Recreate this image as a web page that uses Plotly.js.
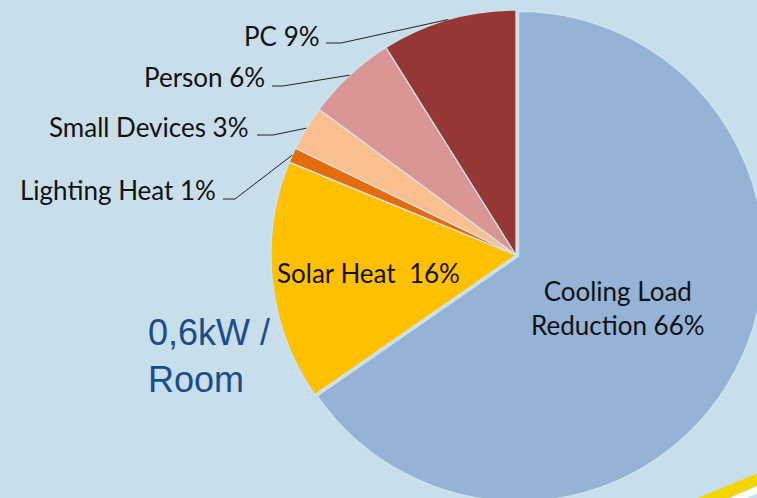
<!DOCTYPE html>
<html>
<head>
<meta charset="utf-8">
<script src="https://cdn.plot.ly/plotly-3.0.1.min.js"></script>
<style>
html,body{margin:0;padding:0;overflow:hidden;background:#c8dfeb;}
#chart{width:800px;height:540px;}
</style>
</head>
<body>
<div id="chart"></div>
<script>
// ---- data ----
const categories = ['Cooling Load Reduction', 'Solar Heat', 'Lighting Heat', 'Small Devices', 'Person', 'PC'];
const shares = [66, 16, 1, 3, 6, 9];
const colors = ['#95b3d7', '#ffc000', '#e46c0a', '#fac090', '#d99694', '#953735'];
const noteText = '0,6kW /<br>Room';

// ---- layout geometry (pixels in an 800x540 paper) ----
const W = 800, H = 540;
const cx = 516, cy = 255, R = 245;
const pullCooling = 0.012;
const Rd = R * (1 + pullCooling);
const px = x => x / W;
const py = y => 1 - y / H;

const trace = {
  type: 'pie',
  labels: categories,
  values: shares,
  sort: false,
  direction: 'clockwise',
  rotation: 0,
  marker: {colors: colors, line: {color: '#d2e4ee', width: 1.2}},
  pull: categories.map((c, i) => i === 0 ? pullCooling : 0),
  textinfo: 'none',
  hoverinfo: 'label+value',
  showlegend: false,
  domain: {x: [px(cx - Rd), px(cx + Rd)], y: [py(cy + Rd), py(cy - Rd)]}
};

const font = {family: 'Lato, "Open Sans", sans-serif', size: 26, color: '#111111'};
const annotations = [];
const shapes = [];

// inside labels
annotations.push({xref: 'paper', yref: 'paper', x: px(618), y: py(308), showarrow: false,
  text: 'Cooling Load<br>Reduction ' + shares[0] + '%', font: font, align: 'center',
  xanchor: 'center', yanchor: 'middle'});
annotations.push({xref: 'paper', yref: 'paper', x: px(368), y: py(273), showarrow: false,
  text: categories[1] + '  ' + shares[1] + '%', font: font, xanchor: 'center', yanchor: 'middle'});

// outside labels with leader lines (ends computed from slice mid-angles)
const total = shares.reduce((a, b) => a + b, 0);
const cum = [];
let acc = 0;
shares.forEach(v => { cum.push(acc + v / 2); acc += v; });
const outside = [
  {i: 5, tx: 322, ty: 36, lx0: 326, lx1: 341, ly: 43},
  {i: 4, tx: 267, ty: 77, lx0: 272, lx1: 283, ly: 86},
  {i: 3, tx: 251, ty: 127, lx0: 257, lx1: 273, ly: 135},
  {i: 2, tx: 218, ty: 190, lx0: 223, lx1: 235, ly: 199}
];
outside.forEach(o => {
  const th = cum[o.i] / total * 2 * Math.PI;
  const ex = cx + R * Math.sin(th), ey = cy - R * Math.cos(th);
  annotations.push({xref: 'paper', yref: 'paper', x: px(o.tx), y: py(o.ty), showarrow: false,
    text: categories[o.i] + ' ' + shares[o.i] + '%', font: font, xanchor: 'right', yanchor: 'middle'});
  shapes.push({type: 'path', xref: 'paper', yref: 'paper',
    path: `M${px(o.lx0)},${py(o.ly)} L${px(o.lx1)},${py(o.ly)} L${px(ex)},${py(ey)}`,
    line: {color: '#222222', width: 1}});
});

// note
annotations.push({xref: 'paper', yref: 'paper', x: px(146), y: py(356), showarrow: false,
  text: noteText, align: 'left', xanchor: 'left', yanchor: 'middle',
  font: {family: '"Liberation Sans", Arial, sans-serif', size: 36, color: '#1b4d8c'}});

// slide decoration stripe bottom-right
shapes.push({type: 'path', xref: 'paper', yref: 'paper', layer: 'above',
  path: `M${px(695)},${py(499)} L${px(758)},${py(473)} L${px(758)},${py(485)} L${px(726)},${py(499)} Z`,
  fillcolor: '#f3d600', line: {width: 0}});
shapes.push({type: 'path', xref: 'paper', yref: 'paper', layer: 'above',
  path: `M${px(728)},${py(499)} L${px(758)},${py(486)} L${px(758)},${py(493)} L${px(744)},${py(499)} Z`,
  fillcolor: '#ffffff', line: {width: 0}});

const layout = {
  width: W, height: H,
  margin: {l: 0, r: 0, t: 0, b: 0},
  paper_bgcolor: '#c8dfeb',
  plot_bgcolor: '#c8dfeb',
  showlegend: false,
  annotations: annotations,
  shapes: shapes
};

Plotly.newPlot('chart', [trace], layout, {displayModeBar: false, staticPlot: true});
</script>
</body>
</html>
